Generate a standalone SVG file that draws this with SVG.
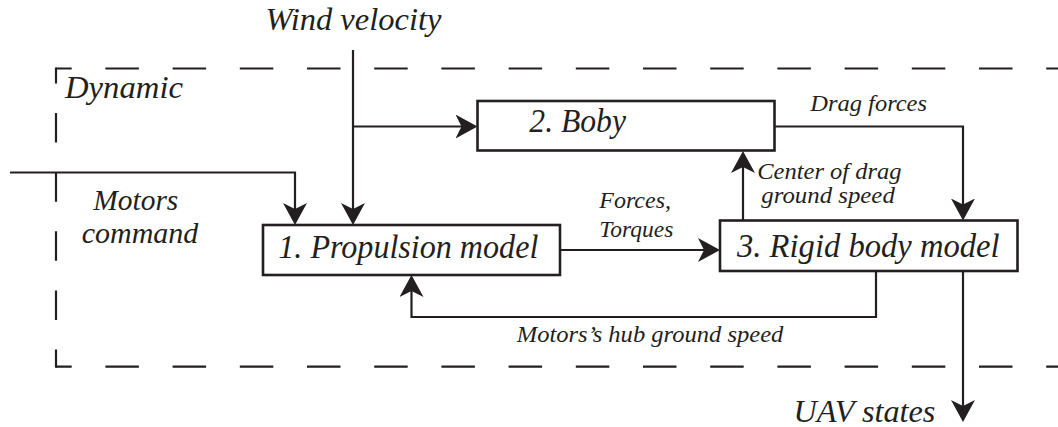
<svg xmlns="http://www.w3.org/2000/svg" width="1058" height="427" viewBox="0 0 1058 427">
  <style>
    .box { fill: #ffffff; stroke: #231f20; stroke-width: 2.6; }
    .conn { fill: none; stroke: #231f20; stroke-width: 2.2; }
    .dash { fill: none; stroke: #231f20; stroke-width: 2.2; }
    .node { font-family: 'Liberation Serif', serif; font-style: italic; font-size: 34px; fill: #231f20; }
    .big { font-family: 'Liberation Serif', serif; font-style: italic; font-size: 32px; fill: #231f20; }
    .mid { font-family: 'Liberation Serif', serif; font-style: italic; font-size: 30px; fill: #231f20; }
    .small { font-family: 'Liberation Serif', serif; font-style: italic; font-size: 24px; fill: #231f20; }
  </style>
  <defs>
    <marker id="arrow" viewBox="0 0 22 24" refX="11" refY="12" markerWidth="22" markerHeight="24" markerUnits="userSpaceOnUse" orient="auto">
      <path d="M0,0 L22,12 L0,24 L6,12 Z" fill="#231f20"/>
    </marker>
  </defs>
  <rect width="1058" height="427" fill="#ffffff"/>

  <g id="dynamic-boundary">
    <path class="dash" d="M56,68.5 H1070" stroke-dasharray="33.5 33.7" stroke-dashoffset="17.8"/>
    <path class="dash" d="M56,366.7 H1070" stroke-dasharray="33.5 33.7" stroke-dashoffset="17.8"/>
    <path class="dash" d="M56,67.4 V367.8" stroke-dasharray="29.5 29.6" stroke-dashoffset="13.4"/>
    <text class="big" x="65" y="98" textLength="118" lengthAdjust="spacingAndGlyphs">Dynamic</text>
  </g>

  <g id="connectors">
    <path class="conn" d="M353,50 V214" marker-end="url(#arrow)"/>
    <path class="conn" d="M353,126.5 H466.5" marker-end="url(#arrow)"/>
    <path class="conn" d="M10,172.5 H295 V214" marker-end="url(#arrow)"/>
    <path class="conn" d="M560,250 H709" marker-end="url(#arrow)"/>
    <path class="conn" d="M743,220.5 V162" marker-end="url(#arrow)"/>
    <path class="conn" d="M774.5,126.5 H963 V209.5" marker-end="url(#arrow)"/>
    <path class="conn" d="M963,271 V411" marker-end="url(#arrow)"/>
    <path class="conn" d="M876,271 V317 H411.5 V286" marker-end="url(#arrow)"/>
    <text class="small" x="810.3" y="111" textLength="116.7" lengthAdjust="spacingAndGlyphs">Drag forces</text>
    <text class="small" x="757.2" y="179" textLength="144.4" lengthAdjust="spacingAndGlyphs">Center of drag</text>
    <text class="small" x="761.3" y="202.5" textLength="133.5" lengthAdjust="spacingAndGlyphs">ground speed</text>
    <text class="small" x="599.3" y="208.3" textLength="71.7" lengthAdjust="spacingAndGlyphs">Forces,</text>
    <text class="small" x="599.3" y="237" textLength="74" lengthAdjust="spacingAndGlyphs">Torques</text>
    <text class="small" x="516.7" y="341.7" textLength="266.7" lengthAdjust="spacingAndGlyphs">Motors’s hub ground speed</text>
  </g>

  <g id="input-wind">
    <text class="big" x="265.4" y="29.7" textLength="176" lengthAdjust="spacingAndGlyphs">Wind velocity</text>
  </g>
  <g id="input-motors">
    <text class="mid" x="93.3" y="209.6" textLength="85" lengthAdjust="spacingAndGlyphs">Motors</text>
    <text class="mid" x="81.7" y="243.3" textLength="116.6" lengthAdjust="spacingAndGlyphs">command</text>
  </g>

  <g id="node-propulsion">
    <rect class="box" x="263" y="225" width="297" height="50"/>
    <text class="node" x="278.3" y="258.3" textLength="260" lengthAdjust="spacingAndGlyphs">1. Propulsion model</text>
  </g>
  <g id="node-boby">
    <rect class="box" x="477.5" y="101" width="297" height="49.5"/>
    <text class="node" x="529.3" y="132" textLength="96.7" lengthAdjust="spacingAndGlyphs">2. Boby</text>
  </g>
  <g id="node-rigid-body">
    <rect class="box" x="720" y="220.5" width="297.5" height="50.5"/>
    <text class="node" x="737" y="257.3" textLength="262.6" lengthAdjust="spacingAndGlyphs">3. Rigid body model</text>
  </g>
  <g id="output-uav">
    <text class="big" x="793.4" y="422" textLength="142" lengthAdjust="spacingAndGlyphs">UAV states</text>
  </g>
</svg>
